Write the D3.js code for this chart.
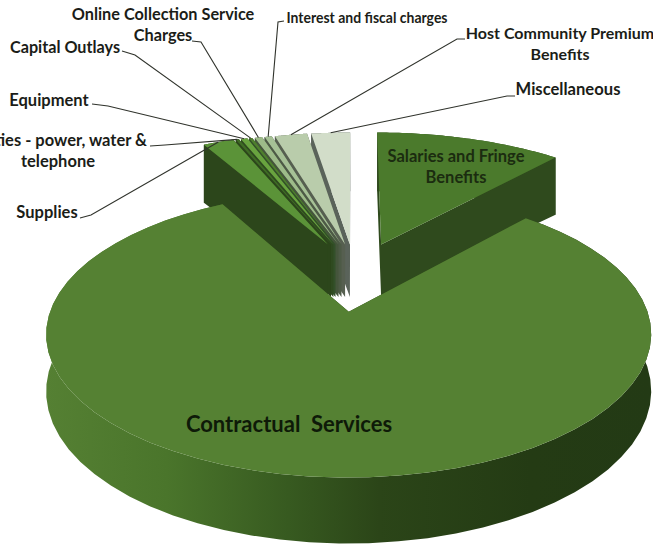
<!DOCTYPE html>
<html lang="en">
<head>
  <meta charset="UTF-8" />
  <title>Expenses by category</title>
  <script src="https://d3js.org/d3.v7.min.js"></script>
  <style>
    html, body { margin: 0; background: #fff; overflow: hidden; }
    svg { display: block; }
    text { font-family: Lato, "Open Sans", sans-serif; font-weight: 700; fill: #1b1d18; white-space: pre; }
  </style>
</head>
<body>
<svg width="653" height="544"></svg>
<script>
  // values in percent, clockwise from 12 o'clock
  const categories = ["Salaries and Fringe Benefits", "Contractual Services", "Supplies",
    "Utilities - power, water & telephone", "Equipment", "Capital Outlays",
    "Online Collection Service Charges", "Interest and fiscal charges",
    "Host Community Premium Benefits", "Miscellaneous"];
  const shares = [11.5, 80.5, 1.9, 0.2, 0.4, 0.2, 0.45, 0.45, 2.0, 2.4];

  const topColors = ["#4b7a2c", "#558133", "#5b9338", "#3f6c25", "#69a43f", "#4f7f2e", "#9dbb89", "#a6c196", "#b9ccab", "#d2ddc9"];
  const sideColors = ["#2f4a1d", "url(#rim)", "#2c461b", "#2c461b", "#2f4a20", "#33502a", "#45553c", "#4d5a46", "#565f50", "#5a635a"];

  // how far each slice is pulled out, in pie radii
  const pullU = [0.097, -0.01, -0.08, -0.07, -0.062, -0.055, -0.045, -0.035, -0.023, -0.007];
  const pullV = [0.08, -0.4, 0.08, 0.08, 0.08, 0.08, 0.08, 0.08, 0.08, 0.08];
  const radii = [1, 0.92, 1, 1, 1, 1, 1, 1, 1, 1];

  const labels = [
    { lines: ["Salaries and Fringe", "Benefits"], x: 456, y: 162, anchor: "middle", size: 16.5, fill: "#1b2c10" },
    { lines: ["Contractual  Services"], x: 289, y: 432, anchor: "middle", size: 22, fill: "#0e1a08" },
    { lines: ["Supplies"], x: 47, y: 218, anchor: "middle", size: 16.5, leader: [[80, 218], [91, 215]] },
    { lines: ["Utilities - power, water &", "telephone"], x: 147, y: 146, anchor: "end", x2: 58, size: 16.5, leader: [[150, 146], [165, 145]] },
    { lines: ["Equipment"], x: 49, y: 106, anchor: "middle", size: 16.5, leader: [[92, 104], [108, 106]] },
    { lines: ["Capital Outlays"], x: 65, y: 53, anchor: "middle", size: 16.2, leader: [[122, 51], [135, 55]] },
    { lines: ["Online Collection Service", "Charges"], x: 163, y: 20, anchor: "middle", size: 16.3, leader: [[192, 41], [201, 42]] },
    { lines: ["Interest and fiscal charges"], x: 367, y: 23, anchor: "middle", size: 15.5, squeeze: 161, leader: [[284, 21], [278, 22]] },
    { lines: ["Host Community Premium", "Benefits"], x: 560, y: 39, anchor: "middle", size: 16, leader: [[465, 39], [457, 39]] },
    { lines: ["Miscellaneous"], x: 568, y: 95, anchor: "middle", size: 16.6, leader: [[515, 96], [507, 96]] }
  ];

  const svg = d3.select("svg");

  // tilted plane: u to the right, v away from the viewer
  const persp = 0.16, depth = 52;
  const xScale = d3.scaleLinear().domain([-1, 1]).range([352 - 304, 352 + 304]);
  const yScale = d3.scaleLinear().domain([-1, 1]).range([255 + 133, 255 - 133]);

  function project(u, v, drop) {
    const w = 1 + persp * v;
    const wall = v < 0 ? depth / w : depth * (1 + 0.12 * v);
    return [xScale(u / w), yScale(v / w) + (drop ? wall : 0)];
  }

  const pie = d3.pie().sort(null).startAngle(0).endAngle(2 * Math.PI);
  const slices = pie(shares).map((d, i) => {
    const rimAt = a => [pullU[i] + radii[i] * Math.sin(a), pullV[i] + radii[i] * Math.cos(a)];
    return { ...d, i, rimAt, angles: d3.range(0, 61).map(k => d.startAngle + (d.endAngle - d.startAngle) * k / 60) };
  });

  const line = d3.line();
  const defs = svg.append("defs");
  const grad = defs.append("linearGradient").attr("id", "rim")
    .attr("gradientUnits", "userSpaceOnUse")
    .attr("x1", 46).attr("x2", 652).attr("y1", 0).attr("y2", 0);
  [[0, "#558033"], [0.2, "#4a752b"], [0.4, "#375a20"], [0.55, "#2b4518"], [0.8, "#243b14"], [1, "#233a15"]]
    .forEach(s => grad.append("stop").attr("offset", s[0]).attr("stop-color", s[1]));

  // back to front: small wedges right to left, then salaries, then the big slice
  const drawOrder = [9, 8, 7, 6, 5, 4, 3, 2, 0, 1];

  const g = svg.selectAll("g.slice")
    .data(drawOrder.map(i => slices[i]))
    .join("g")
    .attr("class", "slice");

  g.append("path") // outer wall
    .attr("fill", d => sideColors[d.i])
    .attr("d", d => {
      const top = d.angles.map(a => project(...d.rimAt(a), false));
      const low = d.angles.map(a => project(...d.rimAt(a), true)).reverse();
      return line(top.concat(low)) + "Z";
    });

  g.append("path") // cut faces
    .attr("fill", d => d.i === 1 ? "#2b4518" : sideColors[d.i])
    .attr("d", d => {
      const hub = [pullU[d.i], pullV[d.i]];
      const face = a => line([project(...hub, false), project(...d.rimAt(a), false),
        project(...d.rimAt(a), true), project(...hub, true)]) + "Z";
      return face(d.startAngle) + face(d.endAngle);
    });

  g.append("path") // top
    .attr("fill", d => topColors[d.i])
    .attr("d", d => {
      const hub = project(pullU[d.i], pullV[d.i], false);
      return line([hub].concat(d.angles.map(a => project(...d.rimAt(a), false)))) + "Z";
    });

  // labels and leader lines
  labels.forEach((l, i) => {
    const size = l.size;
    l.lines.forEach((t, k) => {
      const txt = svg.append("text")
        .attr("x", k && l.x2 ? l.x2 : l.x)
        .attr("y", l.y + k * (size + 4.5))
        .attr("text-anchor", k && l.x2 ? "middle" : l.anchor)
        .attr("font-size", size)
        .style("fill", l.fill || null)
        .text(t);
      if (l.squeeze) txt.attr("textLength", l.squeeze).attr("lengthAdjust", "spacingAndGlyphs");
    });
    if (l.leader) {
      const s = slices[i];
      const mid = (s.startAngle + s.endAngle) / 2;
      svg.append("path")
        .attr("fill", "none")
        .attr("stroke", "#30332c")
        .attr("stroke-width", 1.1)
        .attr("d", line(l.leader.concat([project(...s.rimAt(mid), false)])));
    }
  });
</script>
</body>
</html>
